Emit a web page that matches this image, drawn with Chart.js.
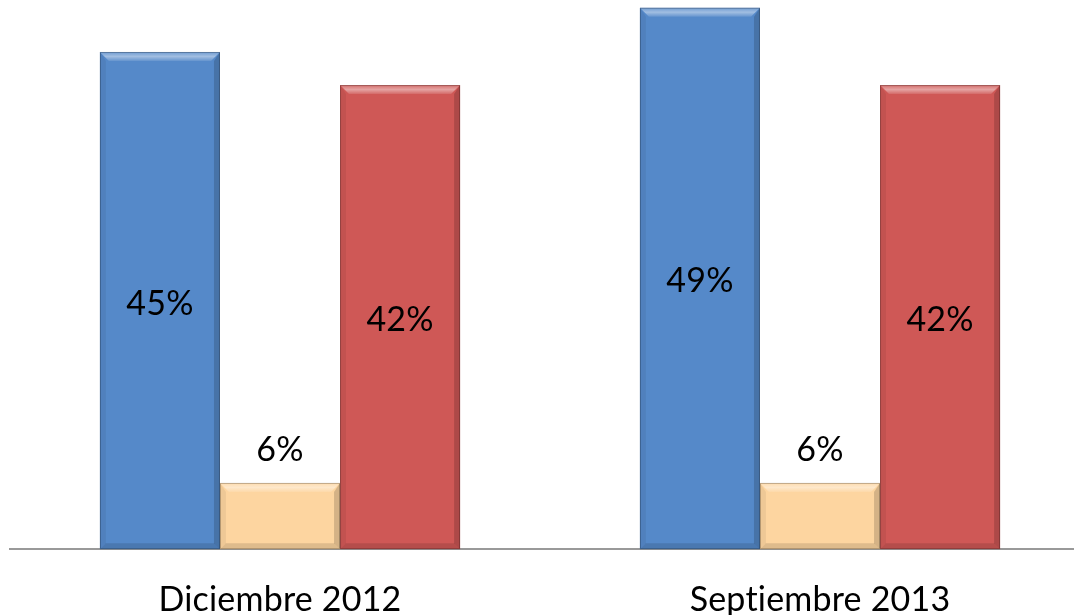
<!DOCTYPE html>
<html>
<head>
<meta charset="utf-8">
<script src="https://cdn.jsdelivr.net/npm/chart.js@4/dist/chart.umd.min.js"></script>
<style>
  html, body { margin: 0; padding: 0; background: #fff; overflow: hidden; }
  #wrap { width: 1090px; height: 650px; }
</style>
</head>
<body>
<div id="wrap"><canvas id="chart"></canvas></div>
<script>
var categories = ["Diciembre 2012", "Septiembre 2013"];
var serieAzul = [45, 49];
var serieBeige = [6, 6];
var serieRoja = [42, 42];
var seriesColors = ["#5589C9", "#FDD5A0", "#CF5856"];

// bevel look on each bar, drawn on top of the bar elements
var bevelPlugin = {
    id: 'bevel',
    beforeDraw: function (chart) {
        // small letter spacing keeps Lato from joining "ti"
        chart.ctx.letterSpacing = '0.2px';
    },
    afterDatasetsDraw: function (chart) {
        var ctx = chart.ctx;
        chart.data.datasets.forEach(function (ds, i) {
            var meta = chart.getDatasetMeta(i);
            meta.data.forEach(function (bar) {
                var l = bar.x - bar.width / 2, r = bar.x + bar.width / 2;
                var t = bar.y, b = bar.base, bv = 9, sv = 6;
                ctx.save();
                var g = ctx.createLinearGradient(0, t, 0, t + bv);
                g.addColorStop(0, 'rgba(255,255,255,0.15)');
                g.addColorStop(0.5, 'rgba(255,255,255,0.45)');
                g.addColorStop(1, 'rgba(255,255,255,0.1)');
                ctx.beginPath();
                ctx.moveTo(l, t); ctx.lineTo(r, t); ctx.lineTo(r - bv, t + bv); ctx.lineTo(l + bv, t + bv); ctx.closePath();
                ctx.fillStyle = g;
                ctx.fill();
                ctx.beginPath();
                ctx.moveTo(l, t); ctx.lineTo(l + sv, t + bv); ctx.lineTo(l + sv, b - sv); ctx.lineTo(l, b); ctx.closePath();
                ctx.fillStyle = 'rgba(0,0,0,0.06)';
                ctx.fill();
                ctx.beginPath();
                ctx.moveTo(r, t); ctx.lineTo(r - sv, t + bv); ctx.lineTo(r - sv, b - sv); ctx.lineTo(r, b); ctx.closePath();
                ctx.fillStyle = 'rgba(0,0,0,0.16)';
                ctx.fill();
                ctx.beginPath();
                ctx.moveTo(l, b); ctx.lineTo(l + sv, b - sv); ctx.lineTo(r - sv, b - sv); ctx.lineTo(r, b); ctx.closePath();
                ctx.fillStyle = 'rgba(0,0,0,0.12)';
                ctx.fill();
                ctx.strokeStyle = 'rgba(0,0,0,0.25)';
                ctx.lineWidth = 1;
                ctx.strokeRect(l + 0.5, t + 0.5, r - l - 1, b - t - 1);
                ctx.restore();
            });
        });
    }
};

// value labels: inside the tall bars, above the small one
var labelPlugin = {
    id: 'valueLabels',
    afterDatasetsDraw: function (chart) {
        var ctx = chart.ctx;
        ctx.save();
        ctx.font = '34px Lato, "Open Sans", sans-serif';
        ctx.fillStyle = '#000';
        ctx.textAlign = 'center';
        ctx.textBaseline = 'middle';
        chart.data.datasets.forEach(function (ds, i) {
            var meta = chart.getDatasetMeta(i);
            meta.data.forEach(function (bar, j) {
                var v = ds.data[j];
                var y = (v < 10) ? bar.y - 33 : (bar.y + bar.base) / 2 + 3;
                ctx.fillText(v + '%', bar.x, y);
            });
        });
        ctx.restore();
    }
};

var ctx = document.getElementById('chart').getContext('2d');
var chart = new Chart(ctx, {
    type: 'bar',
    data: {
        labels: categories,
        datasets: [
            { label: 'A', data: serieAzul, backgroundColor: seriesColors[0] },
            { label: 'B', data: serieBeige, backgroundColor: seriesColors[1] },
            { label: 'C', data: serieRoja, backgroundColor: seriesColors[2] }
        ]
    },
    options: {
        responsive: true,
        maintainAspectRatio: false,
        animation: false,
        layout: { padding: { left: 10, right: 0, top: 0, bottom: 0 } },
        datasets: { bar: { categoryPercentage: 0.667, barPercentage: 1 } },
        plugins: { legend: { display: false }, tooltip: { enabled: false } },
        scales: {
            y: { display: false, min: 0, max: 49.7 },
            x: {
                grid: { display: false, drawTicks: false },
                border: { display: true, color: '#999', width: 2 },
                ticks: { color: '#000', font: { family: 'Lato, "Open Sans", sans-serif', size: 34 }, padding: 30 }
            }
        }
    },
    plugins: [bevelPlugin, labelPlugin]
});
</script>
</body>
</html>
